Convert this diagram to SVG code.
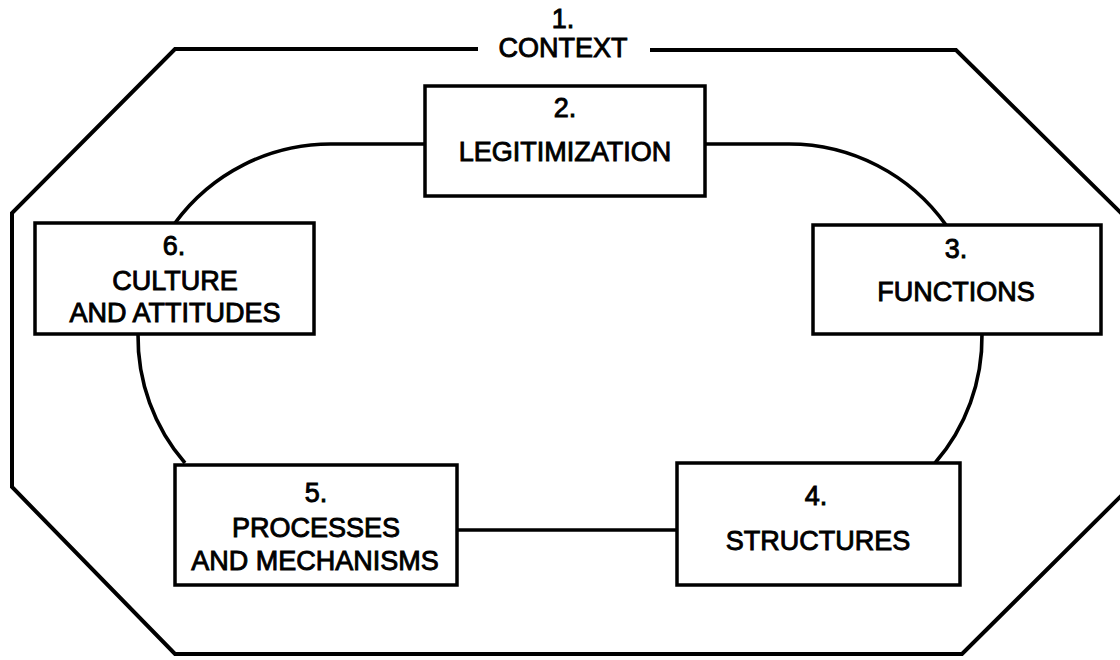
<svg xmlns="http://www.w3.org/2000/svg" width="1120" height="660" viewBox="0 0 1120 660">
<style>
  .frame{fill:none;stroke:#000;stroke-width:4;stroke-linejoin:miter}
  .box{fill:#fff;stroke:#000;stroke-width:3.5}
  .conn{fill:none;stroke:#000;stroke-width:3.6}
  text{font-family:"Liberation Sans",Arial,Helvetica,sans-serif;font-size:27px;fill:#000;stroke:#000;stroke-width:0.9;text-anchor:middle}
</style>
<rect width="1120" height="660" fill="#fff"/>
<g id="context">
  <path class="frame" d="M478,49 H175 L12,213 V487 L175,654 H962 L1124,493 V216 L956,50 H650"/>
  <text x="563" y="28">1.</text>
  <text x="563" y="57">CONTEXT</text>
</g>
<g id="connectors">
  <path class="conn" d="M425,144 H331 A193,193 0 0 0 175,223"/>
  <path class="conn" d="M138,334 A193,193 0 0 0 185,463"/>
  <path class="conn" d="M457,530 H677"/>
  <path class="conn" d="M982,334 A193,193 0 0 1 935,463"/>
  <path class="conn" d="M705,144 H789 A193,193 0 0 1 946,225"/>
</g>
<g id="n2">
  <rect class="box" x="425" y="86" width="280" height="110"/>
  <text x="565" y="117">2.</text>
  <text x="565" y="161">LEGITIMIZATION</text>
</g>
<g id="n3">
  <rect class="box" x="813" y="225" width="288" height="109"/>
  <text x="956" y="258">3.</text>
  <text x="956" y="301">FUNCTIONS</text>
</g>
<g id="n4">
  <rect class="box" x="677" y="463" width="283" height="122"/>
  <text x="816" y="505">4.</text>
  <text x="818" y="550">STRUCTURES</text>
</g>
<g id="n5">
  <rect class="box" x="175" y="465" width="282" height="120"/>
  <text x="316" y="502">5.</text>
  <text x="316" y="537">PROCESSES</text>
  <text x="315" y="570">AND MECHANISMS</text>
</g>
<g id="n6">
  <rect class="box" x="35" y="223" width="279" height="111"/>
  <text x="174" y="255">6.</text>
  <text x="175" y="290">CULTURE</text>
  <text x="175" y="322">AND ATTITUDES</text>
</g>
</svg>
